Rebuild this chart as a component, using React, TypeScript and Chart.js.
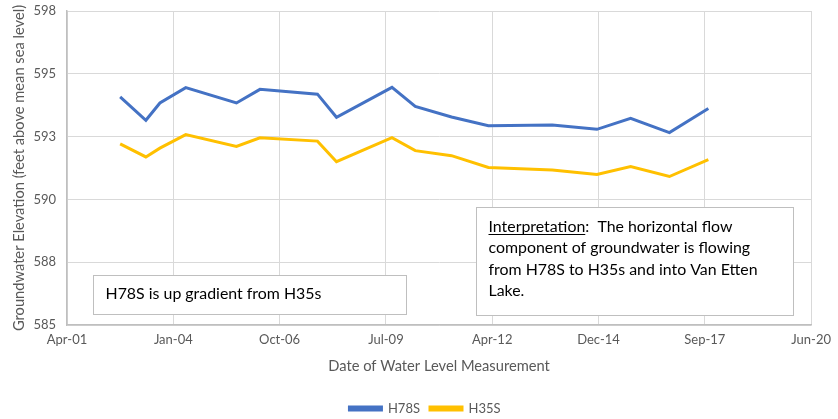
import React, { useEffect, useRef } from "react";
import { Chart, registerables } from "chart.js";

Chart.register(...registerables);

const sampleDates = [
  "2002-09-01", "2003-05-01", "2003-09-10", "2004-05-10", "2005-08-30", "2006-04-08",
  "2007-10-01", "2008-03-28", "2009-09-01", "2010-04-08", "2011-03-15", "2012-02-25",
  "2013-10-18", "2014-12-12", "2015-10-25", "2016-10-24", "2017-10-25",
];
const h78s = [
  594.08, 593.15, 593.84, 594.45, 593.84, 594.38, 594.19, 593.27, 594.46, 593.70,
  593.28, 592.93, 592.96, 592.79, 593.23, 592.66, 593.62,
];
const h35s = [
  592.21, 591.69, 592.04, 592.58, 592.11, 592.45, 592.32, 591.50, 592.46, 591.94,
  591.74, 591.27, 591.17, 590.99, 591.31, 590.91, 591.58,
];
const seriesNames = ["H78S", "H35S"];
const xMin = 37000;
const xMax = 44000;
const xStep = 1000;
const yMin = 585;
const yMax = 597.5;
const yStep = 2.5;
const note1 = "H78S is up gradient from H35s";
const note2Lead = "Interpretation";
const note2Lines = [
  ":  The horizontal flow",
  "component of groundwater is flowing",
  "from H78S to H35s and into Van Etten",
  "Lake.",
];
const xTitle = "Date of Water Level Measurement";
const yTitle = "Groundwater Elevation (feet above mean sea level)";

const MONTHS = ["Jan", "Feb", "Mar", "Apr", "May", "Jun", "Jul", "Aug", "Sep", "Oct", "Nov", "Dec"];
const EXCEL_EPOCH = Date.UTC(1899, 11, 30);

function toSerial(s: string): number {
  const [y, m, d] = s.split("-").map(Number);
  return (Date.UTC(y, m - 1, d) - EXCEL_EPOCH) / 86400000;
}
function fmtSerial(v: number): string {
  const dt = new Date(EXCEL_EPOCH + Math.round(v) * 86400000);
  const yy = String(dt.getUTCFullYear() % 100).padStart(2, "0");
  return `${MONTHS[dt.getUTCMonth()]}-${yy}`;
}

const FONT = "Lato, 'Open Sans', sans-serif";
const GREY = "#595959";

const legendShift = {
  id: "legendShift",
  afterLayout(chart: any) {
    const lg = chart.legend;
    if (lg) {
      lg.left += 11;
      lg.right += 11;
      if (lg.legendHitBoxes) lg.legendHitBoxes.forEach((h: any) => (h.left += 11));
    }
  },
};

const notesPlugin = {
  id: "notes",
  afterDatasetsDraw(chart: any) {
    const ctx = chart.ctx as CanvasRenderingContext2D;
    const a = chart.chartArea;
    ctx.save();
    // box 1
    const b1 = { x: a.left + 26.5, y: a.bottom - 49.5, w: 313, h: 39 };
    ctx.fillStyle = "#ffffff";
    ctx.fillRect(b1.x, b1.y, b1.w, b1.h);
    ctx.strokeStyle = "#bfbfbf";
    ctx.lineWidth = 1;
    ctx.strokeRect(b1.x, b1.y, b1.w, b1.h);
    ctx.fillStyle = "#000000";
    ctx.font = `15.9px ${FONT}`;
    ctx.textBaseline = "middle";
    ctx.textAlign = "left";
    ctx.fillText(note1, b1.x + 12, b1.y + 18);
    // box 2
    const b2 = { x: a.left + 409.5, y: a.bottom - 117.5, w: 317, h: 108 };
    ctx.fillStyle = "#ffffff";
    ctx.fillRect(b2.x, b2.y, b2.w, b2.h);
    ctx.strokeRect(b2.x, b2.y, b2.w, b2.h);
    ctx.fillStyle = "#000000";
    const tx = b2.x + 12;
    const lh = 21.3;
    const y0 = b2.y + 19.5;
    const leadW = ctx.measureText(note2Lead).width;
    ctx.fillText(note2Lead, tx, y0);
    ctx.fillRect(tx, y0 + 7, leadW, 1);
    ctx.fillText(note2Lines[0], tx + leadW, y0);
    for (let i = 1; i < note2Lines.length; i++) {
      ctx.fillText(note2Lines[i], tx, y0 + lh * i);
    }
    ctx.restore();
  },
};

export default function App() {
  const ref = useRef<HTMLCanvasElement | null>(null);
  useEffect(() => {
    document.body.style.margin = "0";
    const xs = sampleDates.map(toSerial);
    const chart = new Chart(ref.current as HTMLCanvasElement, {
      type: "line",
      data: {
        datasets: [
          {
            label: seriesNames[0],
            data: xs.map((x, i) => ({ x, y: h78s[i] })),
            borderColor: "#4472C4",
            backgroundColor: "#4472C4",
            borderWidth: 3,
            pointRadius: 0,
            tension: 0,
          },
          {
            label: seriesNames[1],
            data: xs.map((x, i) => ({ x, y: h35s[i] })),
            borderColor: "#FFC000",
            backgroundColor: "#FFC000",
            borderWidth: 3,
            pointRadius: 0,
            tension: 0,
          },
        ],
      },
      options: {
        responsive: false,
        animation: false,
        layout: { padding: { top: 11, right: 10, left: 0, bottom: -6 } },
        scales: {
          x: {
            type: "linear",
            min: xMin,
            max: xMax,
            afterBuildTicks: (s: any) => {
              const t = [];
              for (let v = xMin; v <= xMax; v += xStep) t.push({ value: v });
              s.ticks = t;
            },
            afterFit: (s: any) => {
              s.height = 67;
            },
            ticks: {
              callback: (v: any) => fmtSerial(Number(v)),
              color: GREY,
              font: { family: FONT, size: 13 },
              padding: 7,
              maxRotation: 0,
              autoSkip: false,
            },
            grid: { color: "#d9d9d9", drawTicks: false },
            border: { color: "#bfbfbf", width: 1.5 },
            title: {
              display: true,
              text: xTitle,
              color: GREY,
              font: { family: FONT, size: 14.7 },
              padding: { top: 0, bottom: 17 },
            },
          },
          y: {
            min: yMin,
            max: yMax,
            afterBuildTicks: (s: any) => {
              const t = [];
              for (let v = yMin; v <= yMax + 1e-9; v += yStep) t.push({ value: v });
              s.ticks = t;
            },
            afterFit: (s: any) => {
              s.width = 67;
              s.paddingTop = 0;
              s.paddingBottom = 0;
            },
            ticks: {
              callback: (v: any) => String(Math.round(Number(v))),
              color: GREY,
              font: { family: FONT, size: 13 },
              padding: 11,
            },
            grid: { color: "#d9d9d9", drawTicks: false },
            border: { color: "#bfbfbf", width: 1.5 },
            title: {
              display: true,
              text: yTitle,
              color: GREY,
              font: { family: FONT, size: 14.7 },
              padding: { top: 10, bottom: 0 },
            },
          },
        },
        plugins: {
          legend: {
            position: "bottom",
            labels: {
              boxWidth: 32,
              boxHeight: 3,
              color: GREY,
              font: { family: FONT, size: 13 },
              padding: 10,
            },
          },
          tooltip: { enabled: false },
        },
      },
      plugins: [notesPlugin, legendShift],
    });
    return () => chart.destroy();
  }, []);
  return (
    <div style={{ width: 838, height: 419, background: "#fff" }}>
      <canvas ref={ref} width={838} height={419} />
    </div>
  );
}
